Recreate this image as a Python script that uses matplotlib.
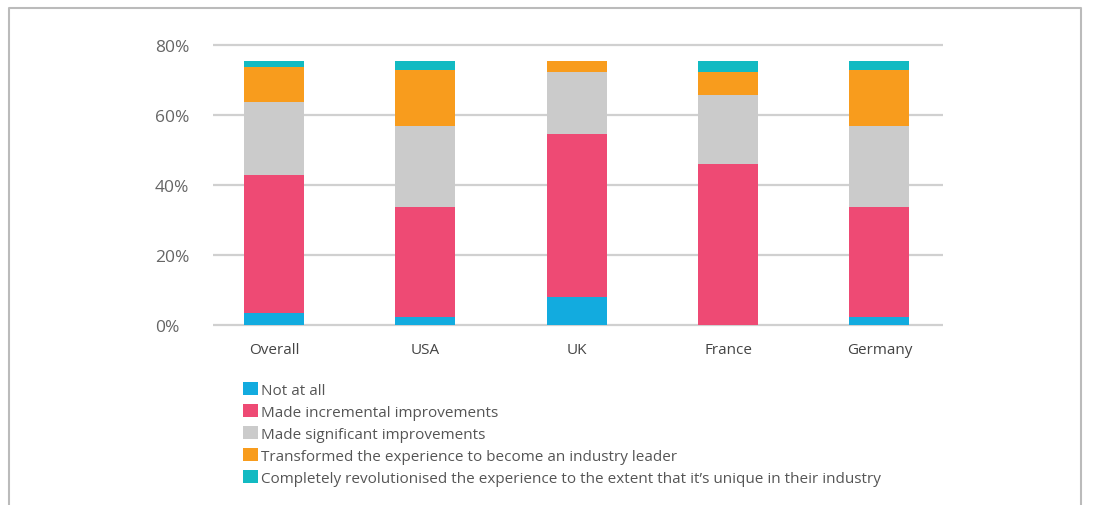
import matplotlib
matplotlib.use("Agg")
import matplotlib.pyplot as plt
from matplotlib.lines import Line2D
import numpy as np

plt.rcParams["font.family"] = ["Open Sans", "DejaVu Sans"]

categories = ["Overall", "USA", "UK", "France", "Germany"]
series_names = [
    "Not at all",
    "Made incremental improvements",
    "Made significant improvements",
    "Transformed the experience to become an industry leader",
    "Completely revolutionised the experience to the extent that it\u2019s unique in their industry",
]
not_at_all = [3.3, 2.3, 8.0, 0.0, 2.3]
incremental = [39.5, 31.4, 46.6, 46.0, 31.4]
significant = [20.9, 23.2, 17.7, 19.7, 23.2]
transformed = [10.0, 16.0, 3.1, 6.6, 16.0]
revolutionised = [1.7, 2.5, 0.0, 3.1, 2.5]
y_ticks = [0, 20, 40, 60, 80]
y_tick_labels = ["0%", "20%", "40%", "60%", "80%"]

colors = ["#12ABDF", "#EE4A74", "#CBCBCB", "#F89C1D", "#12BAC2"]

W, H = 1102, 506
fig = plt.figure(figsize=(W / 100, H / 100), dpi=100)
ax = fig.add_axes([213 / W, 1 - 329.2 / H, 730 / W, (329.2 - 42.5) / H])

x = np.arange(len(categories))
bottom = np.zeros(len(categories))
handles = []
for vals, col, name in zip(
    [not_at_all, incremental, significant, transformed, revolutionised], colors, series_names
):
    b = ax.bar(x, vals, width=0.397, bottom=bottom, color=col, label=name, zorder=3)
    handles.append(b)
    bottom += np.array(vals)

for t in y_ticks:
    ax.axhline(t, color="#D0D0D0", lw=1.6, zorder=1)

ax.set_xlim(-0.403, 4.42)
ax.set_ylim(-1, 81)
ax.set_yticks(y_ticks)
ax.set_yticklabels(y_tick_labels, ha="left", fontsize=12.5, color="#666666")
ax.tick_params(axis="y", length=0, pad=42)
ax.set_xticks(x)
ax.set_xticklabels(categories, fontsize=11, color="#444444")
ax.tick_params(axis="x", length=0, pad=10)
for s in ax.spines.values():
    s.set_visible(False)

fig.legend(
    handles=handles,
    labels=series_names,
    loc="upper left",
    bbox_to_anchor=(243 / W, 1 - 383 / H),
    frameon=False,
    fontsize=11,
    handlelength=0.95,
    handleheight=0.95,
    handletextpad=0.2,
    labelspacing=0.40,
    labelcolor="#555555",
    borderaxespad=0,
    borderpad=0,
)

# outer frame
fig.add_artist(Line2D([9 / W, 9 / W, 1081 / W, 1081 / W], [0, 1 - 9 / H, 1 - 9 / H, 0],
                      transform=fig.transFigure, color="#BBBBBB", lw=1.5))

fig.savefig("out.png", dpi=100)
